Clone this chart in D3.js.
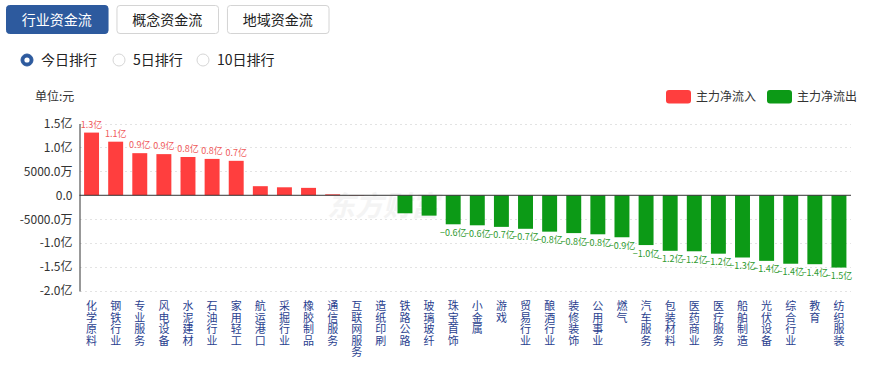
<!DOCTYPE html>
<html><head><meta charset="utf-8">
<script src="https://cdn.jsdelivr.net/npm/d3@7/dist/d3.min.js"></script>
<style>body{margin:0;background:#fff;}svg{display:block;font-family:"Noto Sans CJK SC","Noto Sans",sans-serif;}</style>
</head><body><svg id="c" width="874" height="365"></svg>
<script>
const tabs = ["行业资金流","概念资金流","地域资金流"];
const radios = ["今日排行","5日排行","10日排行"];
const categories = ["化学原料","钢铁行业","专业服务","风电设备","水泥建材","石油行业","家用轻工","航运港口","采掘行业","橡胶制品","通信服务","互联网服务","造纸印刷","铁路公路","玻璃玻纤","珠宝首饰","小金属","游戏","贸易行业","酿酒行业","装修装饰","公用事业","燃气","汽车服务","包装材料","医药商业","医疗服务","船舶制造","光伏设备","综合行业","教育","纺织服装"];
// 单位：亿元
const values = [1.31,1.12,0.88,0.86,0.80,0.76,0.72,0.19,0.167,0.155,0.02,0.006,0,-0.376,-0.425,-0.606,-0.627,-0.66,-0.70,-0.76,-0.79,-0.815,-0.877,-1.04,-1.16,-1.17,-1.22,-1.30,-1.37,-1.43,-1.44,-1.51];
const yTicks = [1.5,1.0,0.5,0,-0.5,-1.0,-1.5,-2.0];
const yTickLabels = ["1.5亿","1.0亿","5000.0万","0.0","-5000.0万","-1.0亿","-1.5亿","-2.0亿"];
const legendItems = ["主力净流入","主力净流出"];

const RED = "#ff3e3e", GREEN = "#0c9a16";
const svg = d3.select("#c");

// tabs
const tabX = d3.scaleBand().domain(tabs).range([6, 328.5]).paddingInner(0.081);
const tg = svg.selectAll("g.tab").data(tabs).join("g").attr("class","tab");
tg.append("rect").attr("x", d => tabX(d)+0.5).attr("y", 5.5).attr("width", tabX.bandwidth()).attr("height", 28)
  .attr("rx", 3).attr("fill", (d,i) => i===0 ? "#2d5a9e" : "#fff").attr("stroke", (d,i) => i===0 ? "#2d5a9e" : "#d4d4d4");
tg.append("text").attr("x", d => tabX(d)+tabX.bandwidth()/2).attr("y", 24.5).attr("text-anchor","middle")
  .attr("font-size", 14).attr("fill", (d,i) => i===0 ? "#fff" : "#222").text(d => d);

// radios
const radioPos = [27, 119, 203];
const rg = svg.selectAll("g.radio").data(radios).join("g").attr("class","radio")
  .attr("transform", (d,i) => `translate(${radioPos[i]},60)`);
rg.append("circle").attr("r", 6).attr("fill", (d,i) => i===0 ? "#2d5a9e" : "#fff").attr("stroke", (d,i) => i===0 ? "#2d5a9e" : "#d6d6d6");
rg.filter((d,i) => i===0).append("circle").attr("r", 2.6).attr("fill", "#fff");
rg.append("text").attr("x", 14).attr("y", 5).attr("font-size", 14).attr("fill", "#222").text(d => d);

// unit
svg.append("text").attr("x", 35).attr("y", 101).attr("font-size", 12).attr("fill", "#333").text("单位:元");

// legend
const legX = [666, 767];
const lg = svg.selectAll("g.leg").data(legendItems).join("g").attr("class","leg")
  .attr("transform", (d,i) => `translate(${legX[i]},90)`);
lg.append("rect").attr("width", 25).attr("height", 13.5).attr("rx", 3).attr("fill", (d,i) => i===0 ? RED : GREEN);
lg.append("text").attr("x", 30).attr("y", 11).attr("font-size", 12).attr("fill", "#333").text(d => d);

// scales
const x = d3.scaleBand().domain(categories).range([79.5, 851]).paddingInner(0.38).paddingOuter(0.19);
const y = d3.scaleLinear().domain([-2, 1.5]).range([291, 123.5]);

// grid
svg.append("g").selectAll("line").data(yTicks.filter(t => t !== 0)).join("line")
  .attr("x1", 80).attr("x2", 851).attr("y1", d => Math.round(y(d))+0.5).attr("y2", d => Math.round(y(d))+0.5)
  .attr("stroke", "#e3e3e3").attr("stroke-dasharray", "2,3");

// watermark
svg.append("text").attr("x", 383).attr("y", 216).attr("text-anchor","middle").attr("font-size", 28)
  .attr("font-weight","bold").attr("font-style","italic").attr("fill", "#f4f4f4").text("东方财富");

// y axis
const yAxis = d3.axisLeft(y).tickValues(yTicks).tickFormat((d,i) => yTickLabels[i]).tickSize(0).tickPadding(7);
const ya = svg.append("g").attr("transform", "translate(79.5,0)").call(yAxis);
ya.select(".domain").attr("stroke", "#333");
ya.selectAll("text").attr("font-size", 12).attr("fill", "#333").attr("font-family", '"Noto Sans CJK SC","Noto Sans",sans-serif');

// bars
svg.append("g").selectAll("rect").data(categories).join("rect")
  .attr("x", d => x(d)).attr("width", x.bandwidth())
  .attr("y", (d,i) => y(Math.max(0, values[i])))
  .attr("height", (d,i) => Math.abs(y(values[i]) - y(0)))
  .attr("fill", (d,i) => values[i] >= 0 ? RED : GREEN);

// zero line
svg.append("line").attr("x1", 79.5).attr("x2", 851).attr("y1", y(0)).attr("y2", y(0)).attr("stroke", "#333");

// value labels
const fmt = d3.format(".1f");
svg.append("g").selectAll("text").data(categories).join("text")
  .filter((d,i) => Math.abs(values[i]) >= 0.5)
  .attr("x", d => x(d) + x.bandwidth()/2)
  .attr("y", d => { const v = values[categories.indexOf(d)]; return v >= 0 ? y(v) - 5 : y(v) + 11.5; })
  .attr("text-anchor","middle").attr("font-size", 9)
  .attr("fill", d => values[categories.indexOf(d)] >= 0 ? "#f05a5a" : "#2e9a2e")
  .text(d => fmt(values[categories.indexOf(d)]) + "亿");

// category labels (one character per line)
const cg = svg.append("g").selectAll("text").data(categories).join("text")
  .attr("font-size", 11).attr("fill", "#2a3f8f").attr("text-anchor","middle");
cg.each(function(d) {
  const t = d3.select(this);
  Array.from(d).forEach((ch, k) => {
    t.append("tspan").attr("x", x(d) + x.bandwidth()/2).attr("y", 310 + k*11.5).text(ch);
  });
});
</script></body></html>
